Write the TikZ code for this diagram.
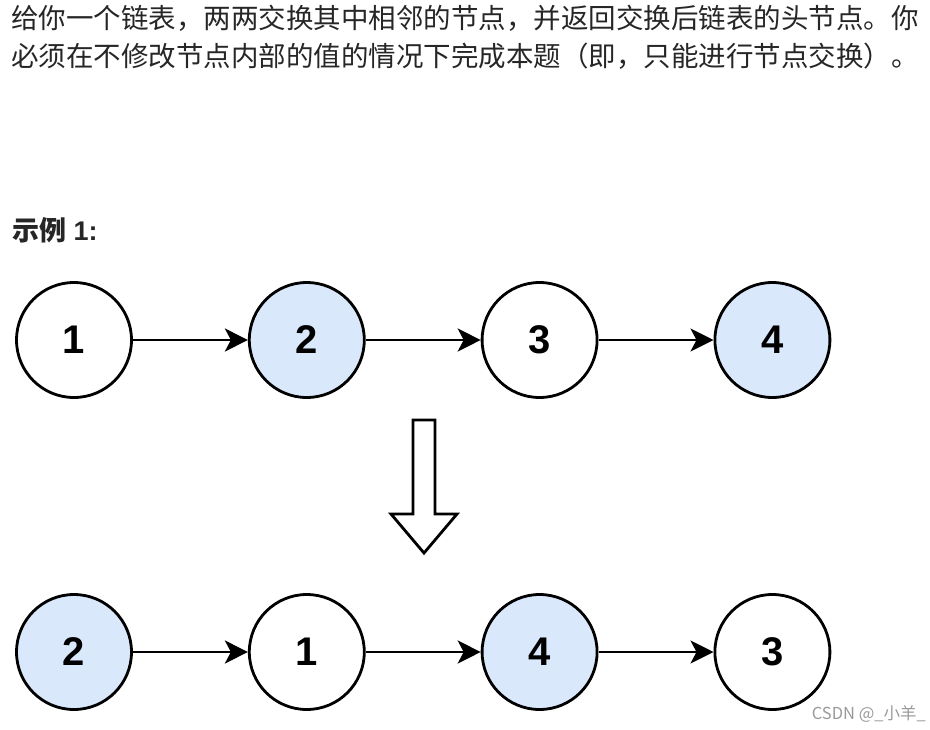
\documentclass[tikz,border=0pt]{standalone}
\usepackage{fontspec}
\usepackage{tikz}
\usetikzlibrary{positioning,arrows.meta}
\setmainfont{Liberation Sans}
\newfontfamily\cjk{Noto Sans CJK SC}
\definecolor{nodeblue}{HTML}{DAE8FC}
\definecolor{textgray}{HTML}{262626}

\begin{document}
\begin{tikzpicture}[x=1pt,y=-1pt,
	listnode/.style={circle, draw=black, line width=2.8pt, minimum size=115pt, inner sep=0pt, font=\bfseries\fontsize{40}{40}\selectfont},
	swapped/.style={listnode, fill=nodeblue},
	link/.style={-{Stealth[length=23pt,width=23pt,inset=6pt]}, line width=2.8pt},
	node distance=115pt]
	\useasboundingbox (0,0) rectangle (930,729);

	\node[anchor=west, text=textgray, font=\cjk\fontsize{27.5}{30}\selectfont, inner sep=0pt] (line1) at (11,18) {给你一个链表，两两交换其中相邻的节点，并返回交换后链表的头节点。你};
	\node[anchor=west, text=textgray, font=\cjk\fontsize{27.5}{30}\selectfont, inner sep=0pt] (line2) at (11,56) {必须在不修改节点内部的值的情况下完成本题（即，只能进行节点交换）。};
	\node[anchor=west, text=textgray, font=\bfseries\fontsize{27}{30}\selectfont, inner sep=0pt] (example) at (12,230) {{\cjk 示例} 1:};

	\node[listnode] (a1) at (74,340) {1};
	\node[swapped, right=of a1] (a2) {2};
	\node[listnode, right=of a2] (a3) {3};
	\node[swapped, right=of a3] (a4) {4};

	\node[swapped] (b1) at (74,652) {2};
	\node[listnode, right=of b1] (b2) {1};
	\node[swapped, right=of b2] (b3) {4};
	\node[listnode, right=of b3] (b4) {3};

	\draw[link] (a1) -- (a2);
	\draw[link] (a2) -- (a3);
	\draw[link] (a3) -- (a4);
	\draw[link] (b1) -- (b2);
	\draw[link] (b2) -- (b3);
	\draw[link] (b3) -- (b4);

	% hollow arrow between the two lists
	\draw[line width=2.8pt, line join=miter, fill=white] (413,420) -- (435,420) -- (435,514) -- (457,514) -- (424,553) -- (391,514) -- (413,514) -- cycle;

	\node[anchor=east, text=black!40, font=\cjk\fontsize{16.5}{18}\selectfont, inner sep=0pt] (mark) at (926,714) {CSDN @\_小羊\_};
\end{tikzpicture}
\end{document}
